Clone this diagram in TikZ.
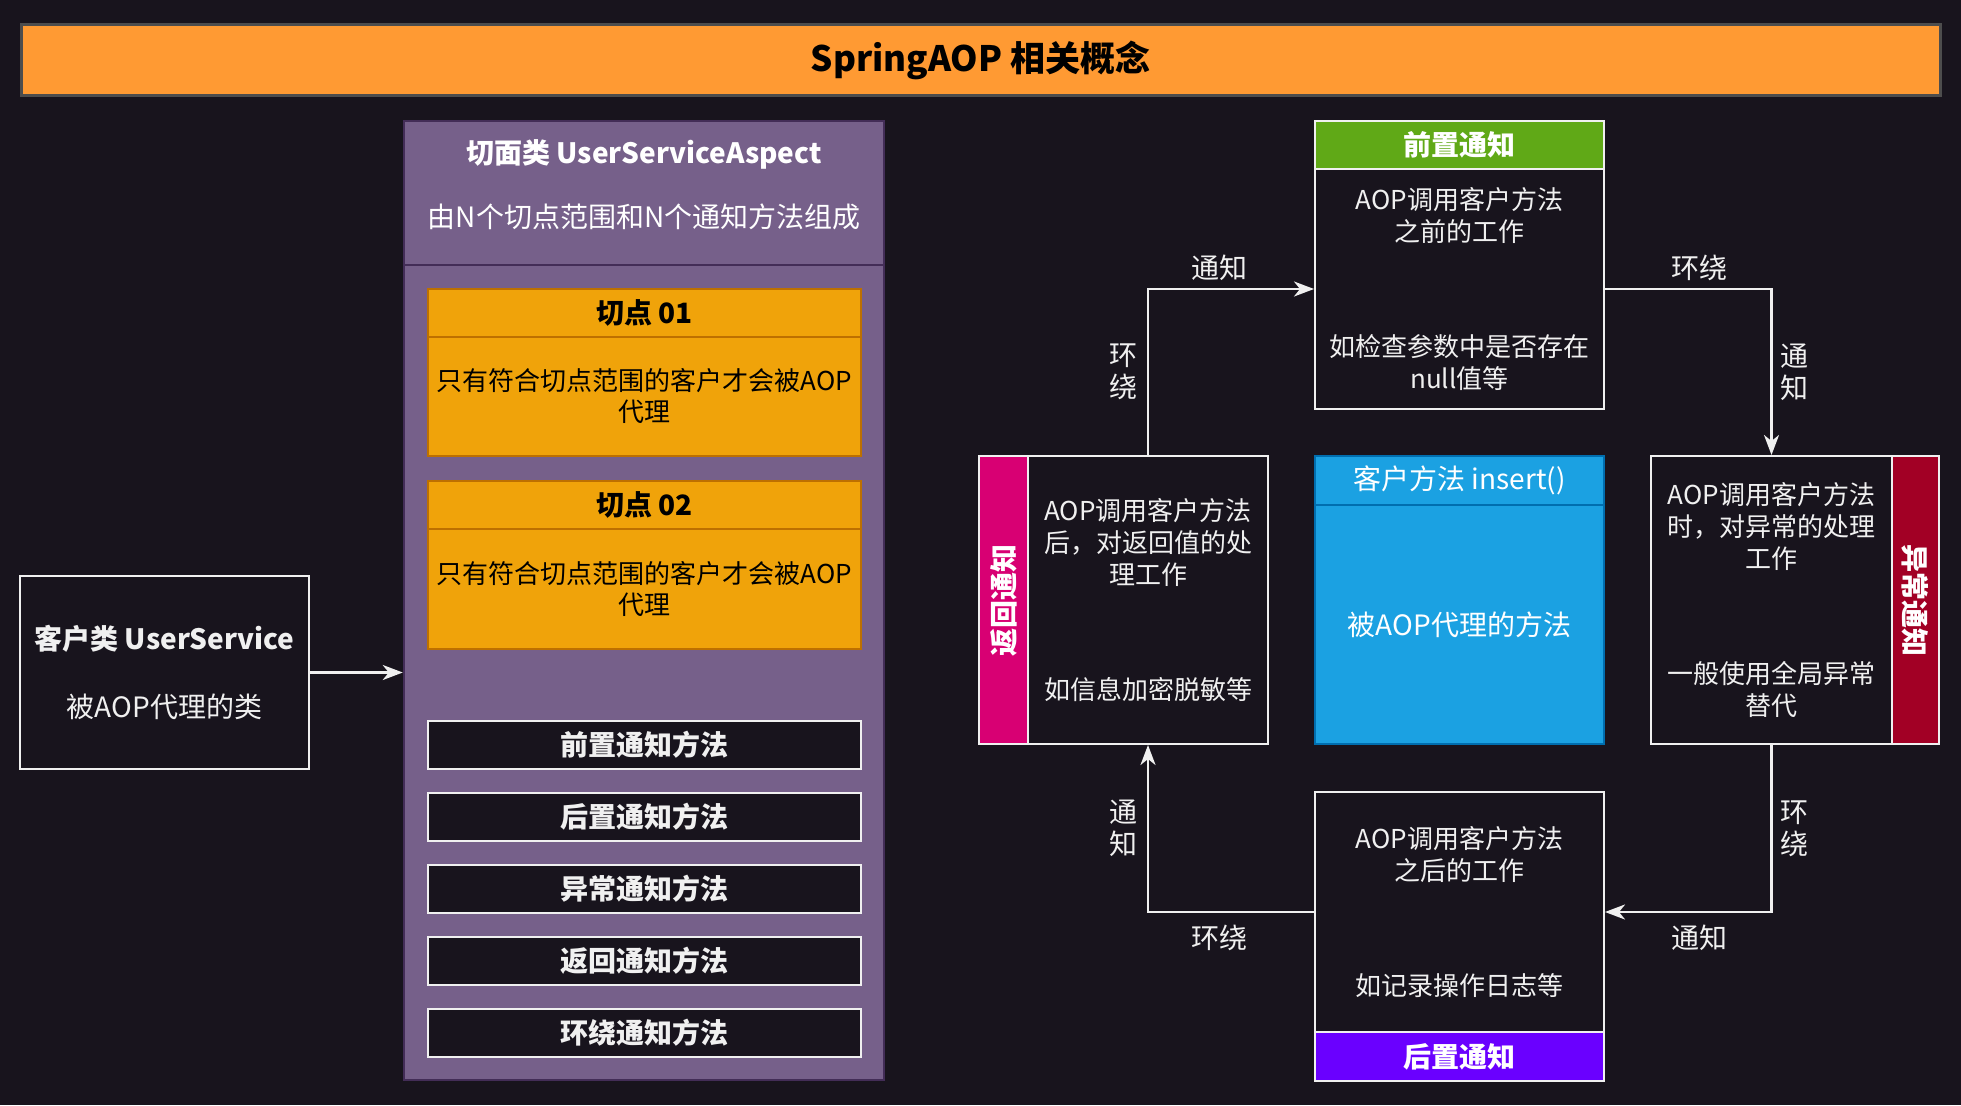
\documentclass[tikz,border=0pt]{standalone}
\usepackage{fontspec}
\setmainfont{Noto Sans CJK SC}
\usetikzlibrary{arrows.meta}

\definecolor{bgdark}{HTML}{18141D}
\definecolor{linewhite}{HTML}{F0F0F0}
\definecolor{titleorange}{HTML}{FF9A33}
\definecolor{titlegray}{HTML}{4D4D4D}
\definecolor{aspfill}{HTML}{76608A}
\definecolor{aspline}{HTML}{432D57}
\definecolor{pcfill}{HTML}{F0A30A}
\definecolor{pcline}{HTML}{BD7000}
\definecolor{greenhd}{HTML}{60A917}
\definecolor{bluefill}{HTML}{1BA1E2}
\definecolor{blueline}{HTML}{006EAF}
\definecolor{pinkhd}{HTML}{D80073}
\definecolor{redhd}{HTML}{A20025}
\definecolor{violethd}{HTML}{6A00FF}

\begin{document}
\begin{tikzpicture}[x=1pt,y=-1pt,
  box/.style={draw=linewhite,line width=2pt,fill=bgdark,text=linewhite,inner sep=0pt,
              align=center,font=\fontsize{28}{34}\selectfont},
  titlebar/.style={draw=titlegray,line width=3pt,fill=titleorange,inner sep=0pt,
                   minimum width=1919pt,minimum height=71pt,font=\fontsize{35}{40}\selectfont\bfseries},
  asp/.style={draw=aspline,line width=2.5pt,fill=aspfill,inner sep=0pt,minimum width=480pt},
  asptext/.style={text=white,inner sep=0pt,align=center,font=\fontsize{28}{32}\selectfont},
  pchead/.style={draw=pcline,line width=2.5pt,fill=pcfill,inner sep=0pt,minimum width=433pt,
                 minimum height=48pt,font=\fontsize{28}{32}\selectfont\bfseries},
  pcbody/.style={draw=pcline,line width=2.5pt,fill=pcfill,inner sep=0pt,minimum width=433pt,
                 align=center,font=\fontsize{26}{31}\selectfont},
  method/.style={box,minimum width=433pt,minimum height=48pt,font=\fontsize{28}{32}\selectfont\bfseries},
  advice/.style={box,minimum height=240pt,font=\fontsize{26}{32}\selectfont},
  hdr/.style={draw=linewhite,line width=2pt,text=white,inner sep=0pt,minimum width=289pt,
              minimum height=48pt,font=\fontsize{28}{32}\selectfont\bfseries},
  strip/.style={draw=linewhite,line width=2pt,text=white,inner sep=0pt,minimum width=288pt,
                font=\fontsize{28}{32}\selectfont\bfseries},
  arr/.style={draw=linewhite,line width=2.5pt,-{Stealth[length=20pt,width=15pt,inset=6pt]}},
  lbl/.style={text=linewhite,inner sep=3pt,align=center,font=\fontsize{28}{32}\selectfont},
]

% Background
\fill[bgdark] (0,0) rectangle (1961,1105);

% Title
\node[titlebar] (title) at (980.5,60.5) {SpringAOP 相关概念};

% Client class
\node[box,minimum width=289pt,minimum height=193pt] (client) at (164.5,672.5)
  {\textbf{客户类 UserService}\\[34pt]被AOP代理的类};

% Aspect class
\node[asp,minimum height=144pt] (aspHead) at (644,193) {};
\node[asptext] (aspTitle) at (644,185)
  {\textbf{切面类 UserServiceAspect}\\[32pt]由N个切点范围和N个通知方法组成};
\node[asp,minimum height=815pt] (aspBody) at (644,672.5) {};

\draw[arr] (client.east) -- (client.east -| aspBody.west);

% Pointcuts
\node[pchead] (pc1Head) at (644.5,313) {切点 01};
\node[pcbody,minimum height=119pt] (pc1) at (644.5,396.5) {只有符合切点范围的客户才会被AOP\\代理};
\node[pchead] (pc2Head) at (644.5,505) {切点 02};
\node[pcbody,minimum height=120pt] (pc2) at (644.5,589) {只有符合切点范围的客户才会被AOP\\代理};

% Advice methods
\node[method] (m1) at (644.5,745) {前置通知方法};
\node[method] (m2) at (644.5,817) {后置通知方法};
\node[method] (m3) at (644.5,889) {异常通知方法};
\node[method] (m4) at (644.5,961) {返回通知方法};
\node[method] (m5) at (644.5,1033) {环绕通知方法};

% Before advice
\node[hdr,fill=greenhd] (preHead) at (1459.5,145) {前置通知};
\node[advice,minimum width=289pt] (pre) at (1459.5,289)
  {AOP调用客户方法\\之前的工作\\[83pt]如检查参数中是否存在\\null值等};

% Client method
\node[hdr,draw=blueline,fill=bluefill,minimum height=49pt,font=\fontsize{28}{32}\selectfont]
  (callHead) at (1459.5,480.5) {客户方法 insert()};
\node[hdr,draw=blueline,fill=bluefill,minimum height=239pt,font=\fontsize{28}{32}\selectfont]
  (call) at (1459.5,624.5) {被AOP代理的方法};

% After advice
\node[advice,minimum width=289pt] (post) at (1459.5,912)
  {AOP调用客户方法\\之后的工作\\[83pt]如记录操作日志等};
\node[hdr,fill=violethd,minimum height=49pt] (postHead) at (1459.5,1056.5) {后置通知};

% Returning advice
\node[strip,fill=pinkhd,rotate=90,minimum height=49pt] (retStrip) at (1003.5,600) {返回通知};
\node[advice,minimum width=240pt,minimum height=288pt] (ret) at (1148,600)
  {AOP调用客户方法\\后，对返回值的处\\理工作\\[83pt]如信息加密脱敏等};

% Throwing advice
\node[strip,fill=redhd,rotate=-90,minimum height=47pt] (excStrip) at (1915.5,600) {异常通知};
\node[advice,minimum width=241pt,minimum height=288pt] (exc) at (1771.5,600)
  {AOP调用客户方法\\时，对异常的处理\\工作\\[83pt]一般使用全局异常\\替代};

% Around flow
\draw[arr] (ret.north) |- node[lbl,pos=0.25,left=6pt] (l1) {环\\绕}
  node[lbl,pos=0.75,above=4pt,xshift=-12pt] (l2) {通知} (pre.west);
\draw[arr] (pre.east) -| node[lbl,pos=0.25,above=4pt,xshift=11pt] (l3) {环绕}
  node[lbl,pos=0.75,right=5pt] (l4) {通\\知} (exc.north);
\draw[arr] (exc.south) |- node[lbl,pos=0.25,right=5pt] (l5) {环\\绕}
  node[lbl,pos=0.75,below=9pt,xshift=11pt] (l6) {通知} (post.east);
\draw[arr] (post.west) -| node[lbl,pos=0.25,below=9pt,xshift=-12pt] (l7) {环绕}
  node[lbl,pos=0.75,left=6pt] (l8) {通\\知} (ret.south);

\end{tikzpicture}
\end{document}
